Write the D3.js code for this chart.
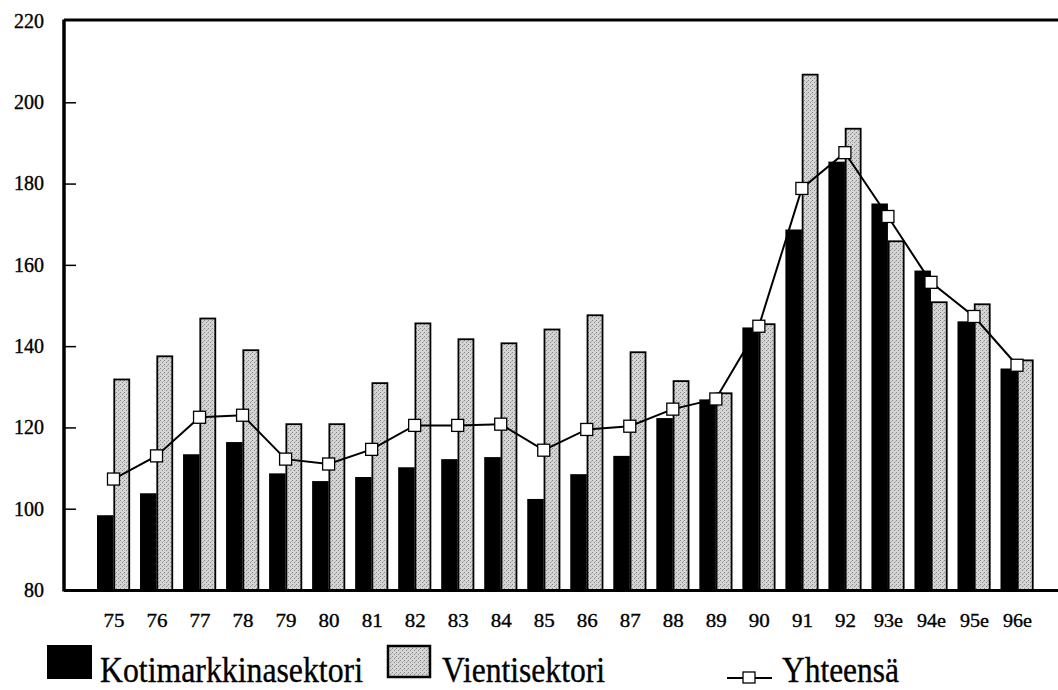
<!DOCTYPE html>
<html lang="fi">
<head>
  <meta charset="UTF-8">
  <title>Kotimarkkina- ja vientisektori</title>
  <script src="https://d3js.org/d3.v7.min.js"></script>
  <style>
    body { margin: 0; background: #fff; }
    svg { display: block; font-family: "Liberation Serif", "Times New Roman", serif; }
    svg text { font-family: "Liberation Serif", "Times New Roman", serif; stroke: #000; stroke-width: 0.35px; }
  </style>
</head>
<body>
  <div id="chart"></div>
  <script>
    const years = ["75", "76", "77", "78", "79", "80", "81", "82", "83", "84", "85",
                   "86", "87", "88", "89", "90", "91", "92", "93e", "94e", "95e", "96e"];
    const kotimarkkina = [98.4, 103.8, 113.4, 116.4, 108.7, 106.8, 107.8, 110.2, 112.2, 112.7, 102.4,
                          108.5, 113, 122.3, 126.9, 144.6, 168.7, 185.4, 175.1, 158.6, 146.1, 134.5];
    const vienti = [131.8, 137.5, 146.8, 139, 120.8, 120.8, 130.9, 145.6, 141.7, 140.7, 144.1,
                    147.6, 138.5, 131.4, 128.4, 145.4, 206.8, 193.5, 165.8, 150.8, 150.3, 136.5];
    const yhteensa = [107.3, 113, 122.5, 123, 112.2, 111, 114.6, 120.5, 120.5, 120.8, 114.4,
                      119.5, 120.3, 124.5, 127, 144.9, 178.8, 187.6, 171.9, 155.7, 147.3, 135.3];
    const yTicks = [80, 100, 120, 140, 160, 180, 200, 220];

    const width = 1058, height = 690;
    const plotLeft = 64, plotTop = 21, plotBottom = 590, plotRight = 1058;
    const barW = 16.5;

    const svg = d3.select("#chart").append("svg")
        .attr("width", width)
        .attr("height", height);

    const x = d3.scalePoint()
        .domain(years)
        .range([113.5, 1017]);

    const y = d3.scaleLinear()
        .domain([80, 220])
        .range([plotBottom, plotTop]);

    // grainy grey fill like the print
    const defs = svg.append("defs");
    const pat = defs.append("pattern")
        .attr("id", "grain")
        .attr("width", 4).attr("height", 4)
        .attr("patternUnits", "userSpaceOnUse");
    pat.append("rect").attr("width", 4).attr("height", 4).attr("fill", "#d4d4d4");
    pat.append("rect").attr("x", 0).attr("y", 0).attr("width", 1).attr("height", 1).attr("fill", "#8a8a8a");
    pat.append("rect").attr("x", 2).attr("y", 2).attr("width", 1).attr("height", 1).attr("fill", "#8a8a8a");
    pat.append("rect").attr("x", 3).attr("y", 1).attr("width", 1).attr("height", 1).attr("fill", "#b0b0b0");

    // bars
    svg.append("g").selectAll("rect")
        .data(years)
        .join("rect")
        .attr("x", d => x(d) - barW)
        .attr("y", (d, i) => y(kotimarkkina[i]))
        .attr("width", barW)
        .attr("height", (d, i) => y(80) - y(kotimarkkina[i]))
        .attr("fill", "#000");

    svg.append("g").selectAll("rect")
        .data(years)
        .join("rect")
        .attr("x", d => x(d) + 0.75)
        .attr("y", (d, i) => y(vienti[i]))
        .attr("width", barW - 1.5)
        .attr("height", (d, i) => y(80) - y(vienti[i]))
        .attr("fill", "url(#grain)")
        .attr("stroke", "#000")
        .attr("stroke-width", 1.8);

    // y axis
    const yAxis = d3.axisLeft(y)
        .tickValues(yTicks)
        .tickSize(-12)
        .tickPadding(20)
        .tickFormat(d3.format("d"));

    const ga = svg.append("g")
        .attr("transform", `translate(${plotLeft},0)`)
        .call(yAxis);
    ga.select(".domain").remove();
    ga.selectAll(".tick line")
        .attr("stroke", "#000")
        .attr("stroke-width", 1.5)
        .style("display", d => (d === 80 || d === 220) ? "none" : null);
    ga.selectAll(".tick text")
        .attr("font-size", 20)
        .attr("fill", "#000");

    // frame: left, top, bottom
    svg.append("line").attr("x1", plotLeft).attr("x2", plotLeft).attr("y1", plotTop - 1.5).attr("y2", plotBottom + 1.5)
        .attr("stroke", "#000").attr("stroke-width", 3.5);
    svg.append("line").attr("x1", plotLeft).attr("x2", plotRight).attr("y1", plotTop - 1).attr("y2", plotTop - 1)
        .attr("stroke", "#000").attr("stroke-width", 3);
    svg.append("line").attr("x1", plotLeft).attr("x2", plotRight).attr("y1", plotBottom + 0.5).attr("y2", plotBottom + 0.5)
        .attr("stroke", "#000").attr("stroke-width", 3);

    // x axis labels
    const xAxis = d3.axisBottom(x).tickSize(0).tickPadding(24);
    const gx = svg.append("g")
        .attr("transform", `translate(0,${plotBottom})`)
        .call(xAxis);
    gx.select(".domain").remove();
    gx.selectAll(".tick text")
        .attr("font-size", 19)
        .attr("fill", "#000")
        .attr("textLength", d => d.length > 2 ? 29 : 21)
        .attr("lengthAdjust", "spacingAndGlyphs");

    // total line
    const line = d3.line()
        .x((d, i) => x(years[i]))
        .y(d => y(d));

    svg.append("path")
        .datum(yhteensa)
        .attr("d", line)
        .attr("fill", "none")
        .attr("stroke", "#000")
        .attr("stroke-width", 2);

    const sq = 12;
    svg.append("g").selectAll("rect")
        .data(yhteensa)
        .join("rect")
        .attr("x", (d, i) => x(years[i]) - sq / 2)
        .attr("y", d => y(d) - sq / 2)
        .attr("width", sq)
        .attr("height", sq)
        .attr("fill", "#fff")
        .attr("stroke", "#000")
        .attr("stroke-width", 1.3);

    // legend
    const lg = svg.append("g").attr("font-size", 35);
    lg.append("rect").attr("x", 47).attr("y", 645).attr("width", 45).attr("height", 34).attr("fill", "#000");
    lg.append("text").attr("x", 100).attr("y", 682).text("Kotimarkkinasektori")
        .attr("textLength", 263).attr("lengthAdjust", "spacingAndGlyphs");

    lg.append("rect").attr("x", 388).attr("y", 646).attr("width", 42).attr("height", 31)
        .attr("fill", "url(#grain)").attr("stroke", "#000").attr("stroke-width", 2.5);
    lg.append("text").attr("x", 442).attr("y", 682).text("Vientisektori")
        .attr("textLength", 163).attr("lengthAdjust", "spacingAndGlyphs");

    lg.append("line").attr("x1", 727).attr("x2", 772).attr("y1", 678).attr("y2", 678)
        .attr("stroke", "#000").attr("stroke-width", 2);
    lg.append("rect").attr("x", 743).attr("y", 672).attr("width", 12).attr("height", 11)
        .attr("fill", "#fff").attr("stroke", "#000").attr("stroke-width", 1.3);
    lg.append("text").attr("x", 782).attr("y", 682).text("Yhteensä")
        .attr("textLength", 117).attr("lengthAdjust", "spacingAndGlyphs");
  </script>
</body>
</html>
